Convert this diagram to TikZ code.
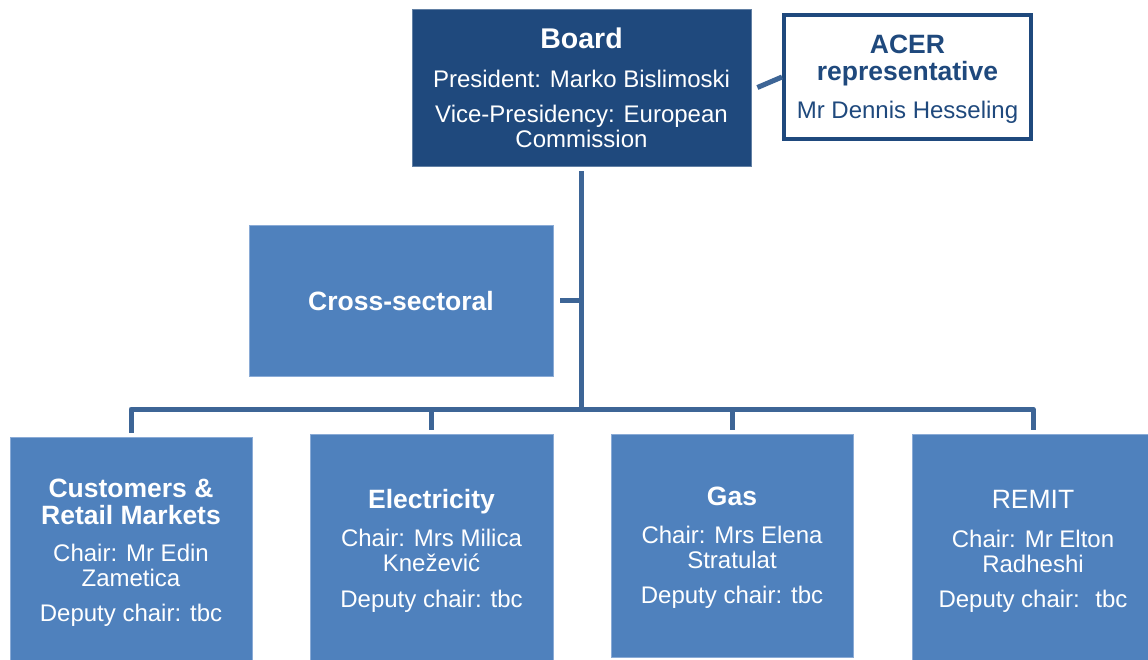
\documentclass[tikz,border=0pt]{standalone}
\usepackage{fontspec}
\setmainfont{Liberation Sans}
\definecolor{boardblue}{HTML}{1F497D}
\definecolor{unitblue}{HTML}{4F81BD}
\definecolor{unitedge}{HTML}{8AABD6}
\definecolor{linkblue}{HTML}{3D6596}
\newcommand{\boardtext}{\fontsize{28.5}{30}\selectfont\bfseries}
\newcommand{\headtext}{\fontsize{26.5}{27}\selectfont\bfseries}
\newcommand{\bodytext}{\fontsize{24}{25}\selectfont}

\begin{document}
\begin{tikzpicture}[x=1pt,y=-1pt,
    unit/.style={fill=unitblue, draw=unitedge, line width=0.8pt, text=white,
      align=center, inner sep=0pt, text depth=0pt, font=\bodytext},
    acerbox/.style={fill=white, draw=boardblue, line width=4pt, text=boardblue,
      align=center, inner sep=0pt, text depth=0pt, font=\bodytext},
    link/.style={draw=linkblue, line width=5pt, line join=round}]

    % Fix the page to the picture size
    \useasboundingbox (0,0) rectangle (1148,659);

    % Board and observer
    \node[unit, fill=boardblue, draw=boardblue!70!white, minimum width=339pt, minimum height=157pt]
      (board) at (581.5,87.5)
      {{\boardtext Board}\\[14pt]President: Marko Bislimoski\\[10pt]Vice-Presidency: European\\Commission};
    \node[acerbox, minimum width=247pt, minimum height=124pt] (acer) at (907.5,77)
      {{\headtext ACER}\\[2pt]{\headtext representative}\\[13pt]Mr Dennis Hesseling};

    % Cross-sectoral group
    \node[unit, minimum width=304pt, minimum height=151pt] (cross) at (401,300.5)
      {\headtext Cross-sectoral};

    % Working groups
    \node[unit, minimum width=242pt, minimum height=226pt] (cust) at (131,550)
      {{\headtext Customers \&}\\[2pt]{\headtext Retail Markets}\\[12pt]Chair: Mr Edin\\Zametica\\[10pt]Deputy chair: tbc};
    \node[unit, minimum width=243pt, minimum height=229pt] (elec) at (431.5,548.5)
      {{\headtext Electricity}\\[13pt]Chair: Mrs Milica\\Knežević\\[11pt]Deputy chair: tbc};
    \node[unit, minimum width=242pt, minimum height=223pt] (gas) at (732,545.5)
      {{\headtext Gas}\\[13pt]Chair: Mrs Elena\\Stratulat\\[10pt]Deputy chair: tbc};
    \node[unit, minimum width=242pt, minimum height=229pt] (remit) at (1033,548.5)
      {{\fontsize{26.5}{27}\selectfont REMIT}\\[14pt]Chair: Mr Elton\\Radheshi\\[10pt]Deputy chair: \ tbc};

    % Connectors
    \coordinate (bus) at (580,409);
    \draw[link] ([yshift=-5pt]board.south) -- (board.south |- bus);
    \draw[link] ([xshift=6pt]board.east) -- (acer.west);
    \draw[link] ([xshift=7pt]cross.east) -- (cross.east -| bus);
    \foreach \child in {cust,elec,gas,remit}
      \draw[link, shorten >=4pt] (bus) -| (\child.north);

\end{tikzpicture}
\end{document}
